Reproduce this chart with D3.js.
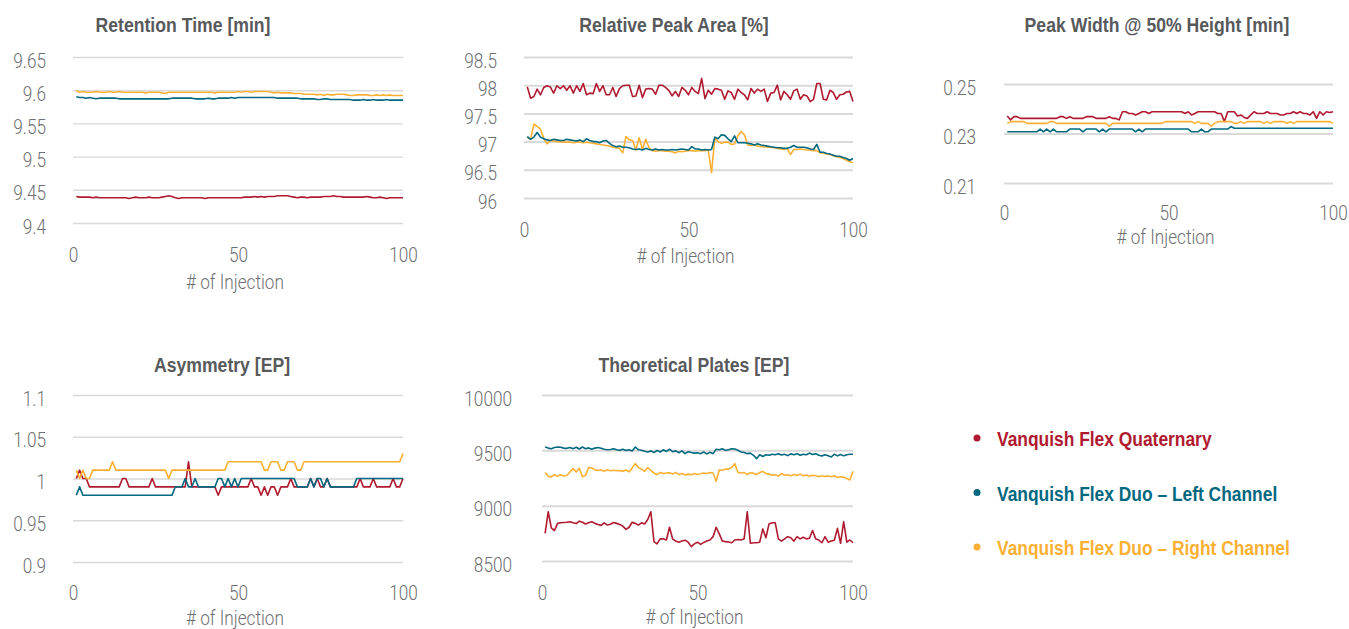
<!DOCTYPE html>
<html>
<head>
<meta charset="utf-8">
<script src="https://cdn.jsdelivr.net/npm/d3@7"></script>
<style>
  body { margin: 0; background: #fff; }
  svg { display: block; }
</style>
</head>
<body>
<script>
// injections 1..100 on every x axis
const injections = d3.range(1, 101)
const xTicks = [0, 50, 100]

const seriesNames = ["Vanquish Flex Quaternary", "Vanquish Flex Duo – Left Channel", "Vanquish Flex Duo – Right Channel"]
const seriesColors = ["#b01a30", "#00687f", "#fbb034"]

// Retention Time [min]
const rtTicks = [9.4, 9.45, 9.5, 9.55, 9.6, 9.65]
const rtQuaternary = [
  9.440, 9.439, 9.439, 9.439, 9.439, 9.438, 9.439, 9.438, 9.438, 9.438,
  9.438, 9.438, 9.438, 9.438, 9.438, 9.438, 9.437, 9.438, 9.439, 9.438,
  9.438, 9.438, 9.439, 9.438, 9.438, 9.438, 9.439, 9.440, 9.441, 9.440,
  9.438, 9.437, 9.438, 9.438, 9.438, 9.438, 9.438, 9.438, 9.438, 9.437,
  9.438, 9.438, 9.438, 9.438, 9.438, 9.438, 9.438, 9.438, 9.438, 9.438,
  9.438, 9.439, 9.439, 9.439, 9.440, 9.439, 9.440, 9.439, 9.440, 9.440,
  9.440, 9.441, 9.441, 9.441, 9.441, 9.440, 9.439, 9.438, 9.439, 9.439,
  9.438, 9.439, 9.439, 9.439, 9.439, 9.440, 9.440, 9.440, 9.441, 9.440,
  9.440, 9.439, 9.439, 9.439, 9.439, 9.439, 9.439, 9.439, 9.440, 9.439,
  9.438, 9.438, 9.439, 9.438, 9.437, 9.438, 9.438, 9.438, 9.438, 9.438]
const rtLeft = [
  9.590, 9.589, 9.589, 9.588, 9.589, 9.588, 9.587, 9.588, 9.588, 9.588,
  9.588, 9.588, 9.588, 9.587, 9.587, 9.587, 9.587, 9.587, 9.587, 9.587,
  9.587, 9.587, 9.587, 9.587, 9.587, 9.587, 9.587, 9.587, 9.587, 9.588,
  9.588, 9.588, 9.588, 9.588, 9.588, 9.588, 9.587, 9.587, 9.587, 9.587,
  9.588, 9.587, 9.587, 9.588, 9.588, 9.588, 9.588, 9.589, 9.588, 9.589,
  9.589, 9.589, 9.589, 9.589, 9.589, 9.589, 9.589, 9.589, 9.589, 9.589,
  9.589, 9.588, 9.588, 9.588, 9.588, 9.588, 9.588, 9.588, 9.587, 9.587,
  9.587, 9.587, 9.587, 9.586, 9.586, 9.587, 9.587, 9.586, 9.586, 9.586,
  9.586, 9.586, 9.586, 9.586, 9.585, 9.585, 9.585, 9.586, 9.585, 9.585,
  9.586, 9.585, 9.585, 9.585, 9.586, 9.585, 9.585, 9.585, 9.585, 9.585]
const rtRight = [
  9.599, 9.597, 9.598, 9.597, 9.597, 9.597, 9.598, 9.597, 9.597, 9.597,
  9.598, 9.597, 9.597, 9.598, 9.597, 9.597, 9.597, 9.597, 9.597, 9.597,
  9.597, 9.596, 9.597, 9.597, 9.597, 9.597, 9.596, 9.595, 9.597, 9.597,
  9.597, 9.597, 9.597, 9.597, 9.597, 9.597, 9.597, 9.597, 9.597, 9.597,
  9.597, 9.597, 9.596, 9.597, 9.597, 9.597, 9.597, 9.597, 9.597, 9.598,
  9.597, 9.598, 9.598, 9.597, 9.598, 9.598, 9.598, 9.598, 9.598, 9.597,
  9.596, 9.597, 9.596, 9.596, 9.596, 9.596, 9.595, 9.595, 9.595, 9.594,
  9.594, 9.594, 9.594, 9.593, 9.594, 9.592, 9.594, 9.593, 9.593, 9.594,
  9.594, 9.594, 9.593, 9.592, 9.592, 9.593, 9.593, 9.593, 9.593, 9.592,
  9.592, 9.593, 9.592, 9.593, 9.592, 9.593, 9.592, 9.592, 9.592, 9.592]

// Relative Peak Area [%]
const areaTicks = [96, 96.5, 97, 97.5, 98, 98.5]
const areaQuaternary = [
  97.97, 97.77, 97.80, 97.93, 97.83, 97.96, 97.99, 97.97, 97.86, 97.99,
  97.94, 97.99, 97.91, 97.99, 97.86, 97.99, 97.89, 98.03, 97.83, 97.86,
  97.85, 98.03, 97.89, 97.99, 97.83, 97.83, 97.96, 97.80, 97.94, 97.99,
  98.00, 98.00, 97.80, 97.81, 98.00, 97.78, 97.93, 97.94, 97.93, 97.84,
  98.00, 98.00, 97.96, 97.91, 97.81, 97.89, 97.80, 97.96, 97.91, 97.83,
  97.96, 97.89, 97.85, 98.12, 97.76, 97.91, 97.84, 97.94, 97.93, 97.91,
  97.75, 97.90, 97.87, 97.75, 97.93, 97.87, 97.83, 97.74, 97.94, 97.86,
  97.93, 97.89, 97.93, 97.71, 97.86, 97.87, 98.00, 97.74, 97.89, 97.83,
  97.75, 97.90, 97.93, 97.75, 97.83, 97.81, 97.71, 97.75, 98.03, 98.03,
  97.75, 97.74, 97.91, 97.87, 97.75, 97.83, 97.84, 97.88, 97.89, 97.71]
const areaLeft = [
  97.09, 97.04, 97.08, 97.16, 97.08, 97.05, 97.03, 97.02, 97.04, 97.03,
  97.02, 97.02, 97.04, 97.03, 97.02, 97.01, 97.03, 97.00, 97.05, 97.02,
  97.00, 97.00, 96.98, 97.01, 97.02, 96.97, 96.93, 96.91, 96.92, 96.90,
  96.90, 96.89, 96.87, 96.86, 96.87, 96.85, 96.88, 96.86, 96.85, 96.87,
  96.85, 96.86, 96.85, 96.85, 96.86, 96.85, 96.86, 96.87, 96.86, 96.85,
  96.91, 96.87, 96.87, 96.85, 96.86, 96.85, 96.86, 97.08, 97.05, 97.12,
  97.11, 97.05, 97.00, 97.10, 96.98, 96.98, 96.98, 96.97, 96.96, 96.94,
  96.96, 96.94, 96.93, 96.92, 96.91, 96.90, 96.89, 96.89, 96.88, 96.88,
  96.90, 96.93, 96.90, 96.90, 96.90, 96.89, 96.87, 96.86, 96.95, 96.81,
  96.81, 96.79, 96.78, 96.76, 96.74, 96.74, 96.72, 96.70, 96.67, 96.70]
const areaRight = [
  97.08, 97.04, 97.31, 97.27, 97.22, 97.06, 96.96, 97.02, 97.01, 97.00,
  97.00, 96.99, 96.99, 96.99, 96.98, 96.99, 96.99, 96.98, 96.99, 96.98,
  96.97, 96.96, 96.95, 96.94, 96.93, 96.92, 96.90, 96.89, 96.88, 96.80,
  97.09, 97.03, 97.02, 96.85, 97.07, 96.86, 97.04, 96.89, 96.84, 96.83,
  96.84, 96.84, 96.83, 96.83, 96.82, 96.80, 96.83, 96.82, 96.83, 96.84,
  96.84, 96.83, 96.84, 96.84, 96.84, 96.85, 96.45, 97.06, 97.00, 96.97,
  96.99, 96.99, 96.95, 96.96, 97.10, 97.18, 97.12, 96.94, 96.93, 96.94,
  96.92, 96.91, 96.91, 96.90, 96.90, 96.89, 96.88, 96.87, 96.86, 96.88,
  96.77, 96.86, 96.86, 96.87, 96.86, 96.85, 96.85, 96.84, 96.84, 96.80,
  96.80, 96.78, 96.77, 96.75, 96.73, 96.72, 96.70, 96.67, 96.64, 96.63]

// Peak Width @ 50% Height [min]
const widthTicks = [0.21, 0.23, 0.25]
const widthQuaternary = [
  0.2371, 0.2355, 0.2368, 0.2368, 0.2361, 0.2361, 0.2361, 0.2361, 0.2361, 0.2361,
  0.2361, 0.2361, 0.2361, 0.2361, 0.2361, 0.2361, 0.2368, 0.2368, 0.2361, 0.2368,
  0.2361, 0.2361, 0.2361, 0.2361, 0.2368, 0.2368, 0.2368, 0.2361, 0.2361, 0.2361,
  0.2361, 0.2368, 0.2361, 0.2361, 0.2355, 0.2388, 0.2388, 0.2381, 0.2381, 0.2375,
  0.2381, 0.2388, 0.2388, 0.2381, 0.2388, 0.2388, 0.2388, 0.2388, 0.2388, 0.2388,
  0.2388, 0.2388, 0.2388, 0.2388, 0.2381, 0.2388, 0.2375, 0.2381, 0.2388, 0.2388,
  0.2388, 0.2388, 0.2388, 0.2388, 0.2381, 0.2381, 0.2348, 0.2388, 0.2388, 0.2388,
  0.2371, 0.2375, 0.2365, 0.2361, 0.2375, 0.2388, 0.2381, 0.2381, 0.2381, 0.2388,
  0.2381, 0.2381, 0.2381, 0.2375, 0.2375, 0.2381, 0.2381, 0.2388, 0.2381, 0.2388,
  0.2381, 0.2381, 0.2375, 0.2388, 0.2361, 0.2388, 0.2375, 0.2388, 0.2385, 0.2388]
const widthLeft = [
  0.2307, 0.2307, 0.2307, 0.2307, 0.2307, 0.2307, 0.2307, 0.2307, 0.2307, 0.2307,
  0.2318, 0.2307, 0.2318, 0.2307, 0.2318, 0.2307, 0.2307, 0.2307, 0.2307, 0.2318,
  0.2318, 0.2318, 0.2318, 0.2307, 0.2318, 0.2318, 0.2318, 0.2318, 0.2307, 0.2318,
  0.2307, 0.2318, 0.2318, 0.2318, 0.2318, 0.2318, 0.2318, 0.2318, 0.2318, 0.2307,
  0.2318, 0.2307, 0.2318, 0.2318, 0.2318, 0.2318, 0.2318, 0.2318, 0.2318, 0.2318,
  0.2318, 0.2318, 0.2318, 0.2318, 0.2318, 0.2318, 0.2307, 0.2307, 0.2307, 0.2318,
  0.2307, 0.2307, 0.2318, 0.2318, 0.2318, 0.2318, 0.2318, 0.2318, 0.2328, 0.2321,
  0.2321, 0.2321, 0.2321, 0.2321, 0.2321, 0.2321, 0.2321, 0.2321, 0.2321, 0.2321,
  0.2321, 0.2321, 0.2321, 0.2321, 0.2321, 0.2321, 0.2321, 0.2321, 0.2321, 0.2321,
  0.2321, 0.2321, 0.2321, 0.2321, 0.2321, 0.2321, 0.2321, 0.2321, 0.2321, 0.2321]
const widthRight = [
  0.2341, 0.2348, 0.2348, 0.2348, 0.2348, 0.2348, 0.2341, 0.2341, 0.2341, 0.2341,
  0.2341, 0.2341, 0.2341, 0.2348, 0.2348, 0.2341, 0.2341, 0.2341, 0.2341, 0.2341,
  0.2341, 0.2341, 0.2341, 0.2341, 0.2341, 0.2341, 0.2341, 0.2341, 0.2341, 0.2341,
  0.2341, 0.2330, 0.2341, 0.2341, 0.2341, 0.2341, 0.2341, 0.2341, 0.2341, 0.2341,
  0.2341, 0.2341, 0.2341, 0.2341, 0.2341, 0.2341, 0.2341, 0.2341, 0.2348, 0.2348,
  0.2348, 0.2348, 0.2348, 0.2348, 0.2348, 0.2348, 0.2348, 0.2341, 0.2348, 0.2341,
  0.2341, 0.2341, 0.2330, 0.2341, 0.2348, 0.2348, 0.2348, 0.2348, 0.2348, 0.2341,
  0.2341, 0.2348, 0.2341, 0.2348, 0.2348, 0.2348, 0.2348, 0.2348, 0.2341, 0.2348,
  0.2341, 0.2348, 0.2348, 0.2348, 0.2348, 0.2341, 0.2348, 0.2341, 0.2348, 0.2348,
  0.2348, 0.2348, 0.2348, 0.2348, 0.2348, 0.2348, 0.2348, 0.2348, 0.2348, 0.2341]

// Asymmetry [EP]
const asymTicks = [0.9, 0.95, 1, 1.05, 1.1]
const asymQuaternary = [
  1.00, 1.01, 1.00, 1.00, 0.99, 0.99, 0.99, 0.99, 0.99, 0.99,
  0.99, 0.99, 0.99, 0.99, 1.00, 1.00, 0.99, 0.99, 0.99, 0.99,
  0.99, 0.99, 0.99, 1.00, 0.99, 0.99, 0.99, 0.99, 0.99, 0.99,
  0.99, 0.99, 0.99, 0.99, 1.02, 0.99, 0.99, 0.99, 0.99, 0.99,
  0.99, 0.99, 0.99, 0.98, 0.99, 0.99, 0.99, 0.99, 0.99, 0.99,
  0.99, 0.99, 0.99, 1.00, 0.99, 0.99, 0.98, 0.99, 0.98, 0.99,
  0.99, 0.98, 0.99, 0.99, 0.99, 1.00, 0.99, 0.99, 0.99, 0.99,
  0.99, 1.00, 0.99, 1.00, 0.99, 0.99, 1.00, 0.99, 0.99, 0.99,
  0.99, 0.99, 0.99, 0.99, 0.99, 0.99, 1.00, 0.99, 0.99, 0.99,
  1.00, 0.99, 0.99, 0.99, 0.99, 0.99, 1.00, 0.99, 0.99, 1.00]
const asymLeft = [
  0.98, 0.99, 0.98, 0.98, 0.98, 0.98, 0.98, 0.98, 0.98, 0.98,
  0.98, 0.98, 0.98, 0.98, 0.98, 0.98, 0.98, 0.98, 0.98, 0.98,
  0.98, 0.98, 0.98, 0.98, 0.98, 0.98, 0.98, 0.98, 0.98, 0.98,
  0.99, 0.99, 0.99, 1.00, 0.99, 0.99, 1.00, 0.99, 0.99, 0.99,
  0.99, 0.99, 0.99, 1.00, 1.00, 0.99, 1.00, 0.99, 1.00, 0.99,
  1.00, 1.00, 1.00, 1.00, 1.00, 1.00, 1.00, 1.00, 1.00, 1.00,
  1.00, 1.00, 1.00, 1.00, 1.00, 1.00, 1.00, 0.99, 0.99, 0.99,
  0.99, 1.00, 0.99, 1.00, 1.00, 0.99, 1.00, 0.99, 0.99, 0.99,
  0.99, 0.99, 0.99, 0.99, 0.99, 1.00, 1.00, 1.00, 1.00, 1.00,
  1.00, 1.00, 1.00, 1.00, 1.00, 1.00, 1.00, 1.00, 1.00, 1.00]
const asymRight = [
  1.01, 1.00, 1.01, 1.00, 1.00, 1.01, 1.01, 1.01, 1.01, 1.01,
  1.01, 1.02, 1.01, 1.01, 1.01, 1.01, 1.01, 1.01, 1.01, 1.01,
  1.01, 1.01, 1.01, 1.01, 1.01, 1.01, 1.01, 1.01, 1.00, 1.01,
  1.01, 1.01, 1.01, 1.01, 1.01, 1.01, 1.01, 1.01, 1.01, 1.01,
  1.01, 1.01, 1.01, 1.01, 1.01, 1.01, 1.02, 1.02, 1.02, 1.02,
  1.02, 1.02, 1.02, 1.02, 1.02, 1.02, 1.02, 1.01, 1.01, 1.02,
  1.02, 1.02, 1.01, 1.01, 1.02, 1.02, 1.02, 1.01, 1.01, 1.02,
  1.02, 1.02, 1.02, 1.02, 1.02, 1.02, 1.02, 1.02, 1.02, 1.02,
  1.02, 1.02, 1.02, 1.02, 1.02, 1.02, 1.02, 1.02, 1.02, 1.02,
  1.02, 1.02, 1.02, 1.02, 1.02, 1.02, 1.02, 1.02, 1.02, 1.03]

// Theoretical Plates [EP]
const platesTicks = [8500, 9000, 9500, 10000]
const platesQuaternary = [
  8750, 8945, 8800, 8775, 8840, 8845, 8848, 8850, 8855, 8845,
  8838, 8860, 8850, 8835, 8845, 8855, 8840, 8830, 8822, 8845,
  8825, 8832, 8848, 8840, 8830, 8815, 8785, 8805, 8850, 8840,
  8825, 8845, 8835, 8875, 8945, 8675, 8655, 8700, 8700, 8690,
  8805, 8700, 8680, 8670, 8680, 8688, 8670, 8630, 8655, 8670,
  8650, 8668, 8680, 8690, 8720, 8805, 8745, 8680, 8675, 8672,
  8665, 8690, 8695, 8690, 8700, 8945, 8660, 8665, 8665, 8670,
  8790, 8710, 8835, 8845, 8845, 8700, 8680, 8700, 8720, 8710,
  8680, 8720, 8700, 8715, 8700, 8705, 8775, 8700, 8690, 8665,
  8720, 8670, 8680, 8688, 8795, 8660, 8855, 8670, 8690, 8665]
const platesLeft = [
  9530, 9520, 9515, 9525, 9530, 9528, 9520, 9518, 9525, 9515,
  9528, 9512, 9530, 9515, 9522, 9510, 9520, 9525, 9518, 9510,
  9505, 9508, 9515, 9505, 9500, 9510, 9498, 9505, 9495, 9530,
  9505, 9500, 9492, 9485, 9495, 9480, 9500, 9485, 9505, 9490,
  9510, 9488, 9495, 9478, 9495, 9470, 9488, 9480, 9475, 9478,
  9470, 9485, 9468, 9482, 9470, 9510, 9505, 9515, 9500, 9505,
  9515, 9512, 9500, 9485, 9480, 9470, 9475, 9455, 9425, 9460,
  9445, 9460, 9455, 9465, 9460, 9470, 9458, 9465, 9452, 9468,
  9460, 9470, 9455, 9465, 9460, 9475, 9462, 9470, 9455, 9448,
  9460, 9450, 9440, 9465, 9450, 9462, 9450, 9460, 9465, 9465]
const platesRight = [
  9300, 9265, 9260, 9280, 9265, 9280, 9268, 9272, 9305, 9335,
  9305, 9338, 9262, 9275, 9345, 9342, 9325, 9318, 9325, 9310,
  9325, 9315, 9320, 9315, 9318, 9310, 9322, 9305, 9340, 9380,
  9345, 9330, 9310, 9345, 9318, 9295, 9280, 9300, 9290, 9295,
  9298, 9285, 9300, 9280, 9290, 9278, 9285, 9280, 9290, 9282,
  9288, 9295, 9290, 9300, 9295, 9220, 9325, 9320, 9330, 9330,
  9345, 9380, 9300, 9295, 9300, 9280, 9298, 9292, 9280, 9300,
  9310, 9290, 9285, 9275, 9280, 9268, 9290, 9275, 9280, 9270,
  9282, 9272, 9285, 9270, 9278, 9265, 9275, 9270, 9262, 9270,
  9265, 9268, 9262, 9270, 9255, 9262, 9258, 9245, 9232, 9310]

const width = 1349, height = 629
const svg = d3.select("body").append("svg")
    .attr("width", width)
    .attr("height", height)

// fonts: light condensed-looking ticks, bold condensed-looking titles
const lightFont = "Roboto, 'Liberation Sans', sans-serif"
const boldFont = "'Liberation Sans', Arial, sans-serif"
const tickScale = 0.86

// layout of each small chart (pixel boxes of the plot area)
const panels = [
  {title: "Retention Time [min]", titleX: 183, titleY: 32, left: 73, right: 403, top: 57, bottom: 223,
   ticks: rtTicks, series: [rtQuaternary, rtLeft, rtRight], pad: 27, grid: 1.4, xPad: 25, labelDy: 66},
  {title: "Relative Peak Area [%]", titleX: 674, titleY: 32, left: 524, right: 853, top: 57, bottom: 198,
   ticks: areaTicks, series: [areaQuaternary, areaLeft, areaRight], pad: 27, grid: 2, xPad: 25, labelDy: 65},
  {title: "Peak Width @ 50% Height [min]", titleX: 1157, titleY: 32, left: 1004, right: 1333, top: 84, bottom: 183,
   ticks: widthTicks, series: [widthQuaternary, widthLeft, widthRight], pad: 28, grid: 2, xPad: 23, labelDy: 61},
  {title: "Asymmetry [EP]", titleX: 222, titleY: 372, left: 73, right: 403, top: 395, bottom: 562,
   ticks: asymTicks, series: [asymQuaternary, asymLeft, asymRight], pad: 27, grid: 1.4, xPad: 24, labelDy: 63},
  {title: "Theoretical Plates [EP]", titleX: 694, titleY: 372, left: 542, right: 853, top: 395, bottom: 561,
   ticks: platesTicks, series: [platesQuaternary, platesLeft, platesRight], pad: 30, grid: 2, xPad: 25, labelDy: 63}
]

const fmt = d => String(+d.toFixed(4))
const drawOrder = [0, 2, 1]

panels.forEach(p => {
  const x = d3.scaleLinear().domain([0, 100]).range([p.left, p.right])
  const y = d3.scaleLinear().domain(d3.extent(p.ticks)).range([p.bottom, p.top])

  const g = svg.append("g")

  // y axis with grid
  const yAxis = g.append("g")
      .attr("transform", `translate(${p.left},0)`)
      .call(d3.axisLeft(y).tickValues(p.ticks).tickFormat(fmt)
        .tickSize(-(p.right - p.left)).tickPadding(p.pad))
  yAxis.select(".domain").remove()
  yAxis.selectAll(".tick line").attr("stroke", "#d9d9d9").attr("stroke-width", p.grid)
  yAxis.selectAll(".tick text")
      .attr("x", 0)
      .attr("transform", `translate(${-p.pad},0) scale(${tickScale},1)`)
      .attr("font-size", 20).attr("font-weight", 300).attr("fill", "#6d6e71").attr("dy", "0.5em")
      .attr("font-family", lightFont)

  // x axis
  const xAxis = g.append("g")
      .attr("transform", `translate(0,${p.bottom})`)
      .call(d3.axisBottom(x).tickValues(xTicks).tickSize(0).tickPadding(p.xPad))
  xAxis.select(".domain").remove()
  xAxis.selectAll(".tick text")
      .attr("transform", `scale(${tickScale},1)`)
      .attr("font-size", 20).attr("font-weight", 300).attr("fill", "#6d6e71")
      .attr("font-family", lightFont)

  g.append("text")
      .attr("transform", `translate(${(p.left + p.right) / 2 - 3},${p.bottom + p.labelDy}) scale(${tickScale},1)`)
      .attr("text-anchor", "middle")
      .attr("font-family", lightFont)
      .attr("font-weight", 300)
      .attr("font-size", 20)
      .attr("fill", "#6d6e71")
      .text("# of Injection")

  g.append("text")
      .attr("transform", `translate(${p.titleX},${p.titleY}) scale(0.84,1)`)
      .attr("text-anchor", "middle")
      .attr("font-family", boldFont)
      .attr("font-size", 21)
      .attr("font-weight", "bold")
      .attr("fill", "#58595b")
      .text(p.title)

  const line = d3.line()
      .x((d, i) => x(injections[i]))
      .y(d => y(d))

  drawOrder.forEach(k => {
    g.append("path")
        .datum(p.series[k])
        .attr("fill", "none")
        .attr("stroke", seriesColors[k])
        .attr("stroke-width", 1.6)
        .attr("stroke-linejoin", "round")
        .attr("d", line)
  })
})

// legend
const legendY = d3.scalePoint().domain(seriesNames).range([438, 547])
const legend = svg.append("g")
legend.selectAll("circle")
    .data(seriesNames)
    .enter()
    .append("circle")
    .attr("cx", 977)
    .attr("cy", d => legendY(d))
    .attr("r", 3.5)
    .attr("fill", (d, i) => seriesColors[i])
legend.selectAll("text")
    .data(seriesNames)
    .enter()
    .append("text")
    .attr("transform", d => `translate(997,${legendY(d) + 8}) scale(0.87,1)`)
    .attr("font-family", boldFont)
    .attr("font-size", 20)
    .attr("font-weight", "bold")
    .attr("fill", (d, i) => seriesColors[i])
    .text(d => d)
</script>
</body>
</html>
